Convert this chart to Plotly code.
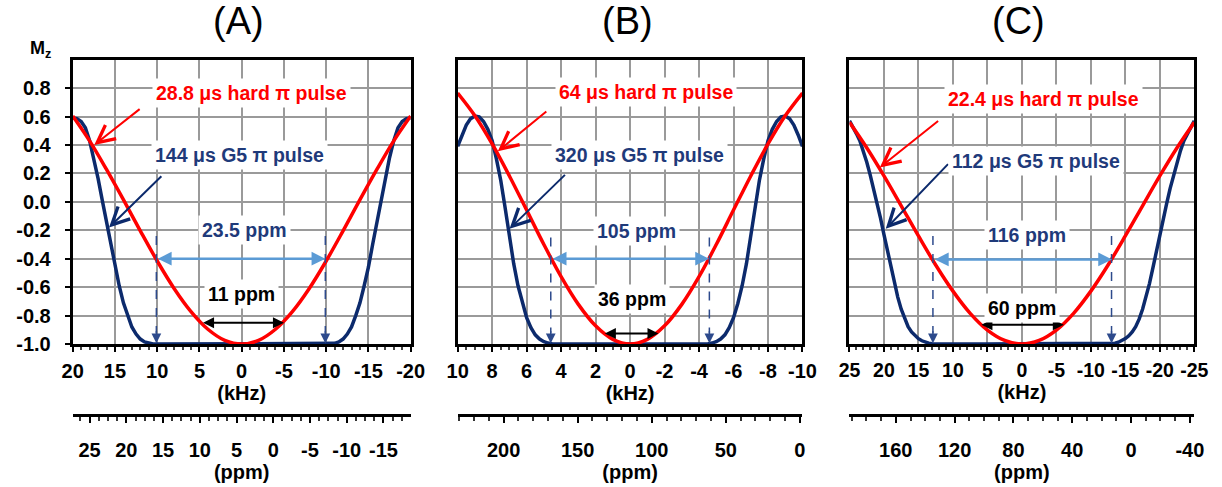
import plotly.graph_objects as go

FONT = "Liberation Sans, Arial, sans-serif"
RED = "#ff0000"
NAVY = "#0c2a6c"
NAVY_TXT = "#1f3a7a"
LBLUE = "#5b9bd5"

# ---------------- data ----------------
# Panel A : 28.8 us hard pi pulse / 144 us G5 pi pulse, offset in kHz
khz_red_a = [20, 18, 16, 14, 12, 10, 8, 6, 4, 2, 0, -2, -4, -6, -8, -10, -12, -14, -16, -18, -20]
mz_red_a = [0.604, 0.429, 0.228, 0.015, -0.204, -0.416, -0.609, -0.772, -0.896, -0.974, -1.0,
            -0.974, -0.896, -0.772, -0.609, -0.416, -0.204, 0.015, 0.228, 0.429, 0.604]
khz_blue_a = [20, 19.5, 19, 18.5, 18, 17.5, 17, 16.5, 16, 15.5, 15, 14.5, 14, 13.5, 13, 12.5, 12, 11.5, 11, 10.5, 10,
              5, 0, -5,
              -10, -10.5, -11, -11.5, -12, -12.5, -13, -13.5, -14, -14.5, -15, -15.5, -16, -16.5, -17, -17.5, -18,
              -18.5, -19, -19.5, -20]
mz_blue_a = [0.59, 0.585, 0.565, 0.52, 0.43, 0.31, 0.165, 0.01, -0.148, -0.30, -0.46, -0.59, -0.71, -0.80, -0.88,
             -0.93, -0.965, -0.985, -0.995, -1.0, -1.0,
             -1.0, -1.0, -1.0,
             -1.0, -1.0, -0.995, -0.985, -0.965, -0.93, -0.88, -0.80, -0.71, -0.59, -0.46, -0.30, -0.148, 0.01,
             0.165, 0.31, 0.43, 0.52, 0.565, 0.585, 0.59]

# Panel B : 64 us hard pi pulse / 320 us G5 pi pulse
khz_red_b = [10, 9, 8, 7, 6, 5, 4, 3, 2, 1, 0, -1, -2, -3, -4, -5, -6, -7, -8, -9, -10]
mz_red_b = [0.765, 0.605, 0.407, 0.182, -0.058, -0.300, -0.526, -0.721, -0.872, -0.967, -1.0,
            -0.967, -0.872, -0.721, -0.526, -0.300, -0.058, 0.182, 0.407, 0.605, 0.765]
khz_blue_b = [10, 9.75, 9.5, 9.25, 9, 8.75, 8.5, 8.25, 8, 7.75, 7.5, 7.25, 7, 6.75, 6.5, 6.25, 6, 5.75, 5.5, 5.25,
              5, 4.75, 4.5,
              2, 0, -2,
              -4.5, -4.75, -5, -5.25, -5.5, -5.75, -6, -6.25, -6.5, -6.75, -7, -7.25, -7.5, -7.75, -8, -8.25,
              -8.5, -8.75, -9, -9.25, -9.5, -9.75, -10]
mz_blue_b = [0.39, 0.47, 0.54, 0.585, 0.603, 0.598, 0.565, 0.51, 0.43, 0.30, 0.15, -0.04, -0.245, -0.435, -0.59,
             -0.715, -0.815, -0.885, -0.935, -0.965, -0.983, -0.993, -0.999,
             -1.0, -1.0, -1.0,
             -0.999, -0.993, -0.983, -0.965, -0.935, -0.885, -0.815, -0.715, -0.59, -0.435, -0.245, -0.04, 0.15,
             0.30, 0.43, 0.51, 0.565, 0.598, 0.603, 0.585, 0.54, 0.47, 0.39]

# Panel C : 22.4 us hard pi pulse / 112 us G5 pi pulse
khz_red_c = [25, 22.5, 20, 17.5, 15, 12.5, 10, 7.5, 5, 2.5, 0, -2.5, -5, -7.5, -10, -12.5, -15, -17.5, -20,
             -22.5, -25]
mz_red_c = [0.559, 0.380, 0.182, -0.028, -0.240, -0.444, -0.628, -0.784, -0.902, -0.975, -1.0,
            -0.975, -0.902, -0.784, -0.628, -0.444, -0.240, -0.028, 0.182, 0.380, 0.559]
khz_blue_c = [25, 24.5, 24, 23.5, 23, 22.5, 22, 21.5, 21, 20.5, 20, 19.5, 19, 18.5, 18, 17.5, 17, 16.5, 16, 15.5,
              15, 14.5, 14, 13.5, 13, 12.5,
              5, 0, -5,
              -12.5, -13, -13.5, -14, -14.5, -15, -15.5, -16, -16.5, -17, -17.5, -18, -18.5, -19, -19.5, -20,
              -20.5, -21, -21.5, -22, -22.5, -23, -23.5, -24, -24.5, -25]
mz_blue_c = [0.57, 0.53, 0.48, 0.43, 0.36, 0.28, 0.19, 0.095, -0.01, -0.115, -0.23, -0.345, -0.465, -0.575, -0.67,
             -0.755, -0.825, -0.878, -0.915, -0.942, -0.962, -0.977, -0.987, -0.994, -0.998, -1.0,
             -1.0, -1.0, -1.0,
             -1.0, -0.998, -0.994, -0.987, -0.977, -0.962, -0.942, -0.915, -0.878, -0.825, -0.755, -0.67, -0.575,
             -0.465, -0.345, -0.23, -0.115, -0.01, 0.095, 0.19, 0.28, 0.36, 0.43, 0.48, 0.53, 0.57]

# tick labels
khz_ticks_a = [20, 15, 10, 5, 0, -5, -10, -15, -20]
khz_ticks_b = [10, 8, 6, 4, 2, 0, -2, -4, -6, -8, -10]
khz_ticks_c = [25, 20, 15, 10, 5, 0, -5, -10, -15, -20, -25]
ppm_ticks_a = [25, 20, 15, 10, 5, 0, -5, -10, -15]
ppm_ticks_b = [200, 150, 100, 50, 0]
ppm_ticks_c = [160, 120, 80, 40, 0, -40]
mz_ticks = [-1.0, -0.8, -0.6, -0.4, -0.2, 0.0, 0.2, 0.4, 0.6, 0.8]

panel_titles = ["(A)", "(B)", "(C)"]
red_labels = ["28.8 \u03bcs hard \u03c0 pulse", "64 \u03bcs hard \u03c0 pulse", "22.4 \u03bcs hard \u03c0 pulse"]
blue_labels = ["144 \u03bcs G5 \u03c0 pulse", "320 \u03bcs G5 \u03c0 pulse", "112 \u03bcs G5 \u03c0 pulse"]
wide_labels = ["23.5 ppm", "105 ppm", "116 ppm"]
narrow_labels = ["11 ppm", "36 ppm", "60 ppm"]

# ---------------- figure ----------------
W, H = 1222, 487
fig = go.Figure()

xdom = [[63 / W, 408 / W], [456 / W, 808 / W], [856 / W, 1208 / W]]
ydom = [(H - 352) / H, (H - 61) / H]
ppm_pos = (H - 425) / H

khz_ranges = [[20, -20], [10, -10], [25, -25]]
khz_ticks = [khz_ticks_a, khz_ticks_b, khz_ticks_c]
khz_minor = [1, 0.5, 1]
ppm_ranges = [[27.3, -18.7], [231, -1.8], [191.5, -43]]
ppm_ticks = [ppm_ticks_a, ppm_ticks_b, ppm_ticks_c]
ppm_minor = [1.25, 10, 10]

curves = [
    (khz_blue_a, mz_blue_a, khz_red_a, mz_red_a),
    (khz_blue_b, mz_blue_b, khz_red_b, mz_red_b),
    (khz_blue_c, mz_blue_c, khz_red_c, mz_red_c),
]

TS = 20
tickfont = dict(family=FONT, size=TS, color="black", weight="bold")
tickfont_c = dict(family=FONT, size=19.5, color="black", weight="bold")
titlefont = dict(family=FONT, size=TS, color="black", weight="bold")
GRID = "#9a9a9a"

for i in range(3):
    xs = "x" if i == 0 else f"x{i+1}"
    ys = "y" if i == 0 else f"y{i+1}"
    bx, by, rx, ry = curves[i]
    fig.add_trace(go.Scatter(x=bx, y=by, xaxis=xs, yaxis=ys, mode="lines",
                             line=dict(color=NAVY, width=3.5), showlegend=False, hoverinfo="skip"))
    fig.add_trace(go.Scatter(x=rx, y=ry, xaxis=xs, yaxis=ys, mode="lines",
                             line=dict(color=RED, width=3.5, shape="spline", smoothing=1.0),
                             showlegend=False, hoverinfo="skip"))
    # invisible trace carrying the ppm axis
    px = f"x{i+4}"
    fig.add_trace(go.Scatter(x=ppm_ticks[i], y=[None] * len(ppm_ticks[i]), xaxis=px, yaxis=ys,
                             mode="lines", showlegend=False, hoverinfo="skip"))

    xkey = "xaxis" if i == 0 else f"xaxis{i+1}"
    ykey = "yaxis" if i == 0 else f"yaxis{i+1}"
    fig.layout[xkey] = dict(
        domain=xdom[i], anchor=ys, range=khz_ranges[i], autorange=False,
        tickvals=khz_ticks[i], ticktext=[str(v) for v in khz_ticks[i]],
        ticks="outside", ticklen=5, tickwidth=1.5, tickcolor="black",
        ticklabelstandoff=2, tickangle=0,
        minor=dict(dtick=khz_minor[i], ticks="outside", ticklen=3, tickcolor="#444", showgrid=False),
        showgrid=True, gridcolor=GRID, gridwidth=1.6, zeroline=False,
        showline=True, linecolor="black", linewidth=3, mirror=True,
        tickfont=tickfont_c if i == 2 else tickfont,
        title=dict(text="(kHz)", font=titlefont, standoff=1),
    )
    fig.layout[ykey] = dict(
        domain=ydom, anchor=xs, range=[-1, 1], autorange=False,
        tickvals=mz_ticks, ticktext=[f"{v:.1f}" for v in mz_ticks],
        showticklabels=(i == 0), ticks="outside" if i == 0 else "", ticklen=5, tickwidth=1.5,
        tickcolor="black", ticklabelstandoff=10,
        showgrid=True, gridcolor=GRID, gridwidth=1.6, zeroline=False,
        showline=True, linecolor="black", linewidth=3, mirror=True,
        tickfont=tickfont,
    )
    fig.layout[f"xaxis{i+4}"] = dict(
        overlaying=xs, anchor="free", position=ppm_pos, side="bottom",
        range=ppm_ranges[i], autorange=False,
        tickvals=ppm_ticks[i], ticktext=[str(v) for v in ppm_ticks[i]],
        ticks="outside", ticklen=6, tickwidth=1.5, tickcolor="black",
        ticklabelstandoff=10, tickangle=0,
        minor=dict(dtick=ppm_minor[i], tick0=0, ticks="outside", ticklen=4, tickcolor="#333", showgrid=False),
        showgrid=False, zeroline=False,
        showline=True, linecolor="black", linewidth=2.5,
        tickfont=tickfont,
        title=dict(text="(ppm)", font=titlefont, standoff=2),
    )

# ---------------- annotations ----------------
ann_pos = [
    dict(rt=(-1.2, 0.765), ra=((11.9, 0.66), (17.45, 0.40)),
         bt=(0.29, 0.33), ba=((9.33, 0.19), (15.7, -0.18)),
         wt=(-0.29, -0.20), wa=(10.1, -9.9, -0.40), dash=[(10.1, -0.24), (-9.9, -0.24)],
         nt=(0.06, -0.65), na=(4.75, -5.0, -0.85)),
    dict(rt=(-0.91, 0.774), ra=((4.77, 0.644), (7.67, 0.356)),
         bt=(-0.57, 0.33), ba=((3.69, 0.20), (6.99, -0.19)),
         wt=(-0.40, -0.205), wa=(4.57, -4.58, -0.40), dash=[(4.6, -0.25), (-4.6, -0.25)],
         nt=(-0.11, -0.685), na=(1.55, -1.65, -0.925)),
    dict(rt=(-3.13, 0.72), ra=((11.93, 0.577), (20.6, 0.242)),
         bt=(-2.0, 0.29), ba=((10.5, 0.276), (19.74, -0.19)),
         wt=(-0.71, -0.235), wa=(12.83, -13.07, -0.405), dash=[(12.9, -0.24), (-13.0, -0.24)],
         nt=(0.0, -0.75), na=(6.08, -6.08, -0.864)),
]

annotations = []
shapes = []
lab_font = dict(family=FONT, size=19.5, weight="bold")
for i in range(3):
    xs = "x" if i == 0 else f"x{i+1}"
    ys = "y" if i == 0 else f"y{i+1}"
    p = ann_pos[i]

    def txt(pos, text, color):
        annotations.append(dict(x=pos[0], y=pos[1], xref=xs, yref=ys, text=text, showarrow=False,
                                font=dict(lab_font, color=color), bgcolor="white", borderpad=3))

    def arrow(tail, head, color, width=2, head_style=5, side="end", size=1.3):
        annotations.append(dict(x=head[0], y=head[1], ax=tail[0], ay=tail[1], xref=xs, yref=ys,
                                axref=xs, ayref=ys, text="", showarrow=True, arrowhead=head_style,
                                startarrowhead=head_style, arrowside=side,
                                arrowsize=size, arrowwidth=width, arrowcolor=color))

    arrow(p["ra"][0], p["ra"][1], RED, head_style=5, size=1.7)
    arrow(p["ba"][0], p["ba"][1], NAVY, head_style=5, size=1.7)
    for (dx, dy) in p["dash"]:
        shapes.append(dict(type="line", xref=xs, yref=ys, x0=dx, x1=dx, y0=dy, y1=-0.92,
                           line=dict(color="#2d4a8c", width=1.5, dash="dash")))
        arrow((dx, -0.90), (dx, -0.995), "#2d4a8c", width=1.5, head_style=2, size=1.3)
    x0, x1, yy = p["wa"]
    arrow((x0, yy), (x1, yy), LBLUE, width=2.5, head_style=2, side="end+start", size=1.1)
    x0, x1, yy = p["na"]
    arrow((x0, yy), (x1, yy), "black", width=2, head_style=2, side="end+start", size=1.1)

    txt(p["rt"], red_labels[i], RED)
    txt(p["bt"], blue_labels[i], NAVY_TXT)
    txt(p["wt"], wide_labels[i], NAVY_TXT)
    txt(p["nt"], narrow_labels[i], "black")

    cx = (xdom[i][0] + xdom[i][1]) / 2 - 3 / W
    annotations.append(dict(x=cx, y=(H - 21) / H, xref="paper", yref="paper", text=panel_titles[i],
                            xanchor="center", yanchor="middle",
                            showarrow=False, font=dict(family=FONT, size=38, color="black")))

annotations.append(dict(x=30 / W, y=(H - 51) / H, xref="paper", yref="paper",
                        xanchor="center", yanchor="middle",
                        text="<b>M<sub>z</sub></b>", showarrow=False,
                        font=dict(family=FONT, size=18, color="black")))

fig.update_layout(
    width=W, height=H, margin=dict(l=0, r=0, t=0, b=0),
    paper_bgcolor="white", plot_bgcolor="white",
    annotations=annotations, shapes=shapes,
    font=dict(family=FONT, color="black"),
)

fig.write_html("out.html")
